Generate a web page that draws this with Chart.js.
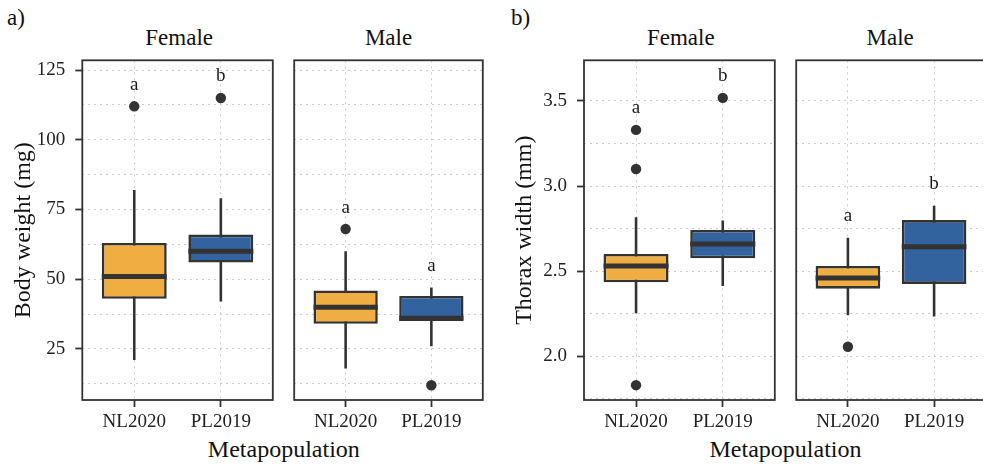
<!DOCTYPE html>
<html>
<head>
<meta charset="utf-8">
<script src="https://cdn.jsdelivr.net/npm/chart.js@4/dist/chart.umd.min.js"></script>
<style>
  body { margin: 0; width: 983px; height: 465px; overflow: hidden; background: #fff; position: relative;
         font-family: 'Liberation Serif', serif; color: #111; }
  canvas, .txt { position: absolute; }
  .txt { line-height: 1; white-space: nowrap; }
  .strip { font-size: 23px; text-align: center; top: 25.7px; }
  .xtitle { font-size: 24px; text-align: center; top: 436.6px; }
  .tag { font-size: 23px; top: 5.7px; }
</style>
</head>
<body>

<div class="txt tag" style="left:7px">a)</div>
<div class="txt tag" style="left:511px">b)</div>

<div class="txt strip" style="left:82.3px;width:193.7px">Female</div>
<div class="txt strip" style="left:291.7px;width:193.7px">Male</div>
<div class="txt strip" style="left:584px;width:193.7px">Female</div>
<div class="txt strip" style="left:793.3px;width:193.7px">Male</div>

<div class="txt xtitle" style="left:82.3px;width:403.1px">Metapopulation</div>
<div class="txt xtitle" style="left:584px;width:403px">Metapopulation</div>

<canvas id="aFemale" width="278" height="465" style="left:0px;top:0px"></canvas>
<canvas id="aMale" width="199" height="465" style="left:289px;top:0px"></canvas>
<canvas id="bFemale" width="290" height="465" style="left:490px;top:0px"></canvas>
<canvas id="bMale" width="200" height="465" style="left:791px;top:0px"></canvas>

<script>
/* ---------- DATA ---------- */
const categories = ['NL2020', 'PL2019'];

// five-number summaries per category: [lower whisker, Q1, median, Q3, upper whisker]
const weightFemale = [[21, 43, 51, 63, 82], [42, 56, 60, 66, 79]];
const weightMale   = [[18, 34, 40, 46, 60], [26, 35, 36, 44, 47]];
const thoraxFemale = [[2.253, 2.435, 2.531, 2.601, 2.817], [2.413, 2.576, 2.66, 2.742, 2.797]];
const thoraxMale   = [[2.241, 2.397, 2.46, 2.531, 2.697], [2.233, 2.425, 2.644, 2.80, 2.885]];

// outliers per category
const weightFemaleOut = [[112], [115]];
const weightMaleOut   = [[68], [12]];
const thoraxFemaleOut = [[3.33, 3.10, 1.83], [3.518]];
const thoraxMaleOut   = [[2.056], []];

// significance letters and their heights
const weightFemaleLetters = ['a', 'b'];
const weightFemaleLetterY = [117.8, 121.1];
const weightMaleLetters   = ['a', 'a'];
const weightMaleLetterY   = [73.9, 52.8];
const thoraxFemaleLetters = ['a', 'b'];
const thoraxFemaleLetterY = [3.428, 3.617];
const thoraxMaleLetters   = ['a', 'b'];
const thoraxMaleLetterY   = [2.793, 2.985];

// y axes
const weightTicks = [25, 50, 75, 100, 125];
const weightRange = [6.7, 128.5];
const thoraxTicks = [2.0, 2.5, 3.0, 3.5];
const thoraxRange = [1.743, 3.739];

/* ---------- STYLE ---------- */
const FONT = 'Liberation Serif';
const INK = '#333333';
const TEXT = '#222222';
const GRID = '#cccccc';
const boxColors = ['#F0AD42', '#33639E'];
const BOX_W = 0.75;

/* ---------- HELPERS ---------- */
function gridValues(majors, range) {
  const step = (majors[1] - majors[0]) / 2;
  const out = [];
  for (let v = majors[0] - step; v <= majors[majors.length - 1] + step + 1e-9; v += step) {
    const r = Math.round(v * 1000) / 1000;
    if (r >= range[0] && r <= range[1]) out.push(r);
  }
  return out;
}

function isMajor(majors, v) {
  return majors.some(m => Math.abs(m - v) < 1e-6);
}

const framePlugin = {
  id: 'frame',
  afterDraw(chart) {
    const { ctx, chartArea: a } = chart;
    ctx.save();
    ctx.strokeStyle = INK;
    ctx.lineWidth = 1.8;
    ctx.strokeRect(a.left, a.top, a.right - a.left, a.bottom - a.top);
    ctx.restore();
  }
};

function lettersPlugin(letters, letterY) {
  return {
    id: 'letters',
    afterDatasetsDraw(chart) {
      const { ctx, scales } = chart;
      ctx.save();
      ctx.fillStyle = '#1a1a1a';
      ctx.font = `19px "${FONT}"`;
      ctx.textAlign = 'center';
      ctx.textBaseline = 'alphabetic';
      letters.forEach((l, i) => {
        ctx.fillText(l, scales.x.getPixelForValue(i + 1), scales.y.getPixelForValue(letterY[i]));
      });
      ctx.restore();
    }
  };
}

/* ---------- FACET CHART ---------- */
function facetChart(id, stats, outliers, letters, letterY, majors, range, fmt, opts) {
  const whiskers = [];
  const medians = [];
  const points = [];
  stats.forEach((s, i) => {
    const x = i + 1;
    whiskers.push({ x: x, y: s[0] }, { x: x, y: s[4] }, { x: x, y: null });
    medians.push({ x: x - BOX_W / 2, y: s[2] }, { x: x + BOX_W / 2, y: s[2] }, { x: x, y: null });
    outliers[i].forEach(v => points.push({ x: x, y: v }));
  });
  const yValues = gridValues(majors, range);

  return new Chart(document.getElementById(id), {
    type: 'bar',
    data: {
      datasets: [
        { type: 'line', order: 3, data: whiskers, borderColor: INK, borderWidth: 2.6,
          pointRadius: 0, spanGaps: false, borderCapStyle: 'butt' },
        { type: 'bar', order: 2,
          data: stats.map((s, i) => ({ x: i + 1, y: [s[1], s[3]] })),
          backgroundColor: boxColors, borderColor: INK, borderWidth: 2.6, borderSkipped: false,
          categoryPercentage: 1, barPercentage: BOX_W },
        { type: 'line', order: 1, data: medians, borderColor: INK, borderWidth: 5,
          pointRadius: 0, spanGaps: false, borderCapStyle: 'butt' },
        { type: 'scatter', order: 0, data: points, backgroundColor: INK, borderWidth: 0, pointRadius: 5.2 }
      ]
    },
    options: {
      responsive: false,
      animation: false,
      events: [],
      layout: { padding: { top: 60.3, bottom: 0, left: opts.padLeft, right: opts.padRight } },
      plugins: { legend: { display: false }, tooltip: { enabled: false } },
      scales: {
        x: {
          type: 'linear', min: 0.4, max: 2.6, offset: false, bounds: 'data',
          afterBuildTicks: s => { s.ticks = categories.map((c, i) => ({ value: i + 1 })); },
          afterFit: s => { s.height = 65; },
          ticks: { autoSkip: false, maxRotation: 0, padding: 4, color: TEXT,
                   font: { family: FONT, size: 19 },
                   callback: v => categories[Math.round(v) - 1] },
          grid: { offset: false, color: GRID, lineWidth: 1, tickLength: 7, tickWidth: 1.8, tickColor: INK },
          border: { display: false, dash: [2, 4] }
        },
        y: {
          type: 'linear', min: range[0], max: range[1], bounds: 'data', beginAtZero: false,
          afterBuildTicks: s => { s.ticks = yValues.map(v => ({ value: v })); },
          afterFit: s => { s.width = opts.yWidth; },
          ticks: { display: opts.showY, autoSkip: false, padding: 10, color: TEXT,
                   font: { family: FONT, size: 19 },
                   callback: v => isMajor(majors, v) ? fmt(v) : '' },
          grid: { color: GRID, lineWidth: 1, drawTicks: opts.showY, tickLength: 7, tickWidth: 1.8,
                  tickColor: c => (c.tick && isMajor(majors, c.tick.value)) ? INK : 'rgba(0,0,0,0)' },
          border: { display: false, dash: [2, 4] },
          title: { display: opts.showY, text: opts.yTitle || '', color: '#111',
                   font: { family: FONT, size: 24 }, padding: { top: opts.titlePad || 0, bottom: 0 } }
        }
      }
    },
    plugins: [framePlugin, lettersPlugin(letters, letterY)]
  });
}

/* ---------- BUILD ---------- */
const fmtWeight = v => String(v);
const fmtThorax = v => v.toFixed(1);

facetChart('aFemale', weightFemale, weightFemaleOut, weightFemaleLetters, weightFemaleLetterY,
  weightTicks, weightRange, fmtWeight,
  { showY: true, yWidth: 82.3, padLeft: 0, padRight: 2, yTitle: 'Body weight (mg)', titlePad: 9.2 });

facetChart('aMale', weightMale, weightMaleOut, weightMaleLetters, weightMaleLetterY,
  weightTicks, weightRange, fmtWeight,
  { showY: false, yWidth: 0, padLeft: 2.7, padRight: 2.6 });

facetChart('bFemale', thoraxFemale, thoraxFemaleOut, thoraxFemaleLetters, thoraxFemaleLetterY,
  thoraxTicks, thoraxRange, fmtThorax,
  { showY: true, yWidth: 94, padLeft: 0, padRight: 2.3, yTitle: 'Thorax width (mm)', titlePad: 20.4 });

facetChart('bMale', thoraxMale, thoraxMaleOut, thoraxMaleLetters, thoraxMaleLetterY,
  thoraxTicks, thoraxRange, fmtThorax,
  { showY: false, yWidth: 0, padLeft: 2.3, padRight: 4 });
</script>
</body>
</html>
